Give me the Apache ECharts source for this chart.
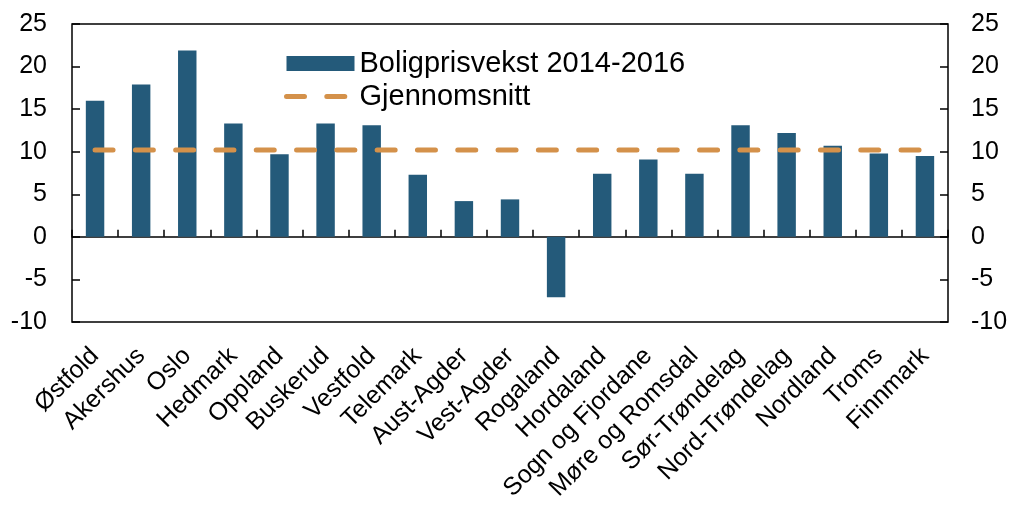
<!DOCTYPE html>
<html>
<head>
<meta charset="utf-8">
<script src="https://cdn.jsdelivr.net/npm/echarts@6/dist/echarts.min.js"></script>
<style>
  html, body { margin: 0; padding: 0; background: #fff; }
  #chart { width: 1012px; height: 511px; }
</style>
</head>
<body>
<div id="chart"></div>
<script>
// fylker
const fylker = [
  "Østfold", "Akershus", "Oslo", "Hedmark", "Oppland", "Buskerud", "Vestfold",
  "Telemark", "Aust-Agder", "Vest-Agder", "Rogaland", "Hordaland",
  "Sogn og Fjordane", "Møre og Romsdal", "Sør-Trøndelag", "Nord-Trøndelag",
  "Nordland", "Troms", "Finnmark"
];
// boligprisvekst 2014-2016, prosent
const vekst = [16.0, 17.9, 21.9, 13.3, 9.7, 13.3, 13.1, 7.3, 4.2, 4.4, -7.1,
  7.4, 9.1, 7.4, 13.1, 12.2, 10.7, 9.8, 9.5];
// gjennomsnitt
const snitt = [10.2, 10.2, 10.2, 10.2, 10.2, 10.2, 10.2, 10.2, 10.2, 10.2,
  10.2, 10.2, 10.2, 10.2, 10.2, 10.2, 10.2, 10.2, 10.2];
const yMin = -10;
const yMax = 25;
const yStep = 5;

const font = "'Liberation Sans', Arial, sans-serif";
const dash = [18, 22.3];
const chart = echarts.init(document.getElementById("chart"));

const yAxisBase = {
  type: "value",
  min: yMin,
  max: yMax,
  interval: yStep,
  splitLine: { show: false },
  axisLine: { show: false },
  axisTick: { show: true, inside: true, length: 8, lineStyle: { color: "#000", width: 1.5 } },
  axisLabel: { fontSize: 25, color: "#000", fontFamily: font }
};

const option = {
  animation: false,
  grid: {
    left: 72,
    right: 64,
    top: 24,
    bottom: 189,
    show: true,
    borderColor: "#000",
    borderWidth: 1.5
  },
  legend: {
    orient: "vertical",
    left: 279,
    top: 44,
    itemWidth: 68,
    itemHeight: 15,
    itemGap: 4,
    textStyle: { fontSize: 29, lineHeight: 29, color: "#000", fontFamily: font },
    data: [
      { name: "Boligprisvekst 2014-2016", icon: "rect" },
      {
        name: "Gjennomsnitt",
        // bare linja, ingen symbol
        itemStyle: { opacity: 0 },
        lineStyle: { width: 5, type: dash, cap: "round", color: "#D4914A" }
      }
    ]
  },
  xAxis: [
    {
      // nullinjen med tikk
      type: "category",
      data: fylker,
      axisLine: { onZero: true, lineStyle: { color: "#000", width: 1.5 } },
      axisTick: { show: true, inside: true, interval: 0, length: 7, lineStyle: { color: "#000", width: 1.5 } },
      axisLabel: { show: false }
    },
    {
      type: "category",
      data: fylker,
      position: "bottom",
      axisLine: { show: false },
      axisTick: { show: false },
      axisLabel: {
        rotate: 45,
        margin: 30,
        interval: 0,
        fontSize: 25,
        color: "#000",
        fontFamily: font
      }
    }
  ],
  yAxis: [
    Object.assign({}, yAxisBase, { position: "left", axisLabel: Object.assign({}, yAxisBase.axisLabel, { margin: 25 }) }),
    Object.assign({}, yAxisBase, { position: "right", axisLabel: Object.assign({}, yAxisBase.axisLabel, { margin: 23 }) })
  ],
  series: [
    {
      name: "Boligprisvekst 2014-2016",
      type: "bar",
      data: vekst,
      barWidth: "40%",
      itemStyle: { color: "#245A7A" }
    },
    {
      name: "Gjennomsnitt",
      type: "line",
      data: snitt,
      symbol: "none",
      lineStyle: {
        color: "#D4914A",
        width: 5,
        type: dash,
        cap: "round"
      },
      itemStyle: { color: "#D4914A" },
      z: 3
    }
  ]
};
chart.setOption(option);
</script>
</body>
</html>
